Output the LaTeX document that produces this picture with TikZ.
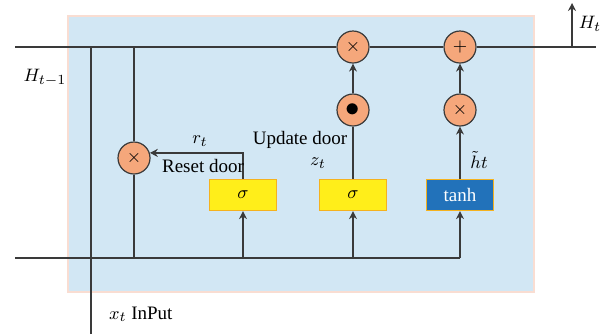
\documentclass[tikz,border=0pt]{standalone}
\usepackage{amsmath,amssymb}
\usepackage{fontspec}
\setmainfont{Liberation Serif}
\usetikzlibrary{arrows.meta,positioning,calc}
\definecolor{cellblue}{RGB}{210,231,244}
\definecolor{cellrim}{RGB}{249,221,210}
\definecolor{opsalmon}{RGB}{245,167,123}
\definecolor{gateyellow}{RGB}{255,238,26}
\definecolor{gaterim}{RGB}{245,178,30}
\definecolor{tanhblue}{RGB}{34,114,186}
\definecolor{wire}{RGB}{58,58,58}

\begin{document}
\begin{tikzpicture}[x=0.5pt,y=-0.5pt, every node/.style={font=\fontsize{9.5}{11}\selectfont},
  op/.style={draw=wire,circle,fill=opsalmon,minimum size=16pt,inner sep=0pt,line width=0.6pt},
  gate/.style={draw=gaterim,fill=gateyellow,minimum width=33.5pt,minimum height=15.5pt,inner sep=0pt,line width=0.6pt},
  flow/.style={draw=wire,line width=0.65pt},
  arr/.style={flow,-{Stealth[length=4pt,width=4pt]}}]
  \useasboundingbox (0,0) rectangle (614,334);
  \draw[fill=cellblue,draw=cellrim,line width=0.6pt] (68,16) rectangle (534,292);
  \node[op] (rmul) at (134,158) {$\times$};
  \node[gate] (rsig) at (243,195) {$\sigma$};
  \node[gate] (zsig) at (353,195) {$\sigma$};
  \node[gate,fill=tanhblue,text=white] (tanhb) at (460,195) {tanh};
  \node[op] (zdot) at (353,110) {\Large$\bullet$};
  \node[op] (hmul) at (460,110) {$\times$};
  \node[op] (topmul) at (353,47) {$\times$};
  \node[op] (topadd) at (460,47) {$+$};
  \coordinate (tl) at (15,47);
  \coordinate (tr) at (596,47);
  \coordinate (bl) at (15,258);
  \coordinate (br) at (460,258);
  \coordinate (hout) at (572,3);
  \coordinate (xin) at (91,334);
  % state line and input line
  \draw[flow] (tl) -- (topmul) -- (topadd) -- (tr);
  \draw[flow] (bl) -- (br);
  \draw[flow] (xin) -- (xin |- tl);
  \draw[arr] (hout |- tr) -- (hout);
  % reset gate
  \draw[flow] (rmul |- tl) -- (rmul);
  \draw[flow] (rmul) -- (rmul |- bl);
  \draw[arr] (rsig |- bl) -- (rsig);
  \draw[arr] (rsig.north) |- (rmul.18);
  % update gate and candidate
  \draw[arr] (zsig |- bl) -- (zsig);
  \draw[flow] (zsig) -- (zdot);
  \draw[arr] (zdot) -- (topmul);
  \draw[arr] (tanhb |- bl) -- (tanhb);
  \draw[arr] (tanhb) -- (hmul);
  \draw[arr] (hmul) -- (topadd);
  % labels
  \node (lht) at (590,24) {$H_t$};
  \node (lhprev) at (45,78) {$H_{t-1}$};
  \node[anchor=west] (lxt) at (102,314) {$x_t$ InPut};
  \node (lrt) at (200,141) {$r_t$};
  \node (lreset) at (203,166) {Reset door};
  \node (lupd) at (300,140) {Update door};
  \node (lzt) at (318,163) {$z_t$};
  \node[anchor=west,inner sep=1pt] (lht2) at (468,160) {$\tilde{h}t$};
\end{tikzpicture}
\end{document}
